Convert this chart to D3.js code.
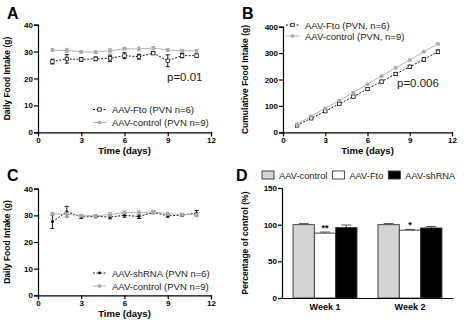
<!DOCTYPE html>
<html>
<head>
<meta charset="utf-8">
<script src="https://cdn.jsdelivr.net/npm/d3@7"></script>
<style>
  body { margin: 0; background: #fff; }
  svg { font-family: "Liberation Sans", Arial, sans-serif; display: block; }
  .tick text { font-weight: bold; font-size: 8px; fill: #000; }
  .domain, .tick line { stroke: #000; stroke-width: 1.2px; }
</style>
</head>
<body>
<svg id="chart" width="464" height="324"></svg>
<script>
// ---- data ----
const days = [1, 2, 3, 4, 5, 6, 7, 8, 9, 10, 11];
const dayTicks = [0, 3, 6, 9, 12];

// panel A: daily intake (g)
const aFto = [26.3, 27.3, 27.1, 27.3, 27.5, 28.5, 28.1, 29.4, 26.6, 28.5, 28.5];
const aFtoErr = [0.9, 1.6, 0.7, 0.7, 1.2, 1.1, 0.9, 0.5, 2.2, 0.8, 0.6];
const ctrlDaily = [30.6, 30.4, 29.9, 29.8, 30.3, 31.1, 31.0, 31.3, 30.6, 30.3, 30.3];
const ctrlDailyErr = [0.5, 0.8, 0.5, 0.5, 0.8, 0.5, 0.7, 0.6, 0.6, 0.5, 0.5];

// panel B: cumulative intake (g)
const bFto = [26, 53, 80, 108, 135, 164, 192, 221, 248, 276, 305];
const bFtoErr = [1, 2, 3, 4, 4, 5, 5, 5, 6, 7, 7];
const bCtrl = [31, 61, 91, 120, 151, 182, 213, 244, 274, 305, 335];
const bCtrlErr = [1, 1, 2, 2, 2, 2, 3, 3, 3, 3, 3];

// panel C: daily intake (g), shRNA vs control
const cShrna = [27.6, 31.4, 29.4, 29.6, 29.4, 30.0, 29.6, 31.1, 29.8, 30.1, 30.8];
const cShrnaErr = [2.5, 2.0, 0.6, 0.5, 0.7, 0.7, 0.8, 0.5, 0.5, 0.4, 1.0];

// panel D: percentage of control
const weeks = ["Week 1", "Week 2"];
const groups = ["AAV-control", "AAV-Fto", "AAV-shRNA"];
const dValues = { "AAV-control": [100, 100], "AAV-Fto": [88.5, 92.5], "AAV-shRNA": [96, 95.5] };
const dErrors = { "AAV-control": [1.5, 1.5], "AAV-Fto": [1.5, 1.0], "AAV-shRNA": [3.5, 2.0] };
const dStars = { "AAV-Fto": ["**", "*"] };

const svg = d3.select("#chart");
const grey = "#a9a9a9";

function panelLetter(t, x, y) {
  svg.append("text").attr("x", x).attr("y", y)
    .style("font-size", "16px").style("font-weight", "bold").text(t);
}

function linePanel(cfg) {
  const x = d3.scaleLinear().domain([0, 12]).range(cfg.xr);
  const y = d3.scaleLinear().domain(cfg.yd).range(cfg.yr);
  const g = svg.append("g");

  g.append("g").attr("transform", `translate(0,${cfg.yr[0]})`)
    .call(d3.axisBottom(x).tickValues(dayTicks).tickSize(4).tickPadding(1));
  g.append("g").attr("transform", `translate(${cfg.xr[0]},0)`)
    .call(d3.axisLeft(y).tickValues(cfg.yt).tickSize(4).tickPadding(1));

  // axis titles
  g.append("text")
    .attr("transform", `translate(${cfg.ytx},${(cfg.yr[0] + cfg.yr[1]) / 2}) rotate(-90)`)
    .attr("text-anchor", "middle").style("font-size", "8.5px").style("font-weight", "bold")
    .text(cfg.ytitle);
  g.append("text").attr("x", (cfg.xr[0] + cfg.xr[1]) / 2).attr("y", cfg.yr[0] + 22)
    .attr("text-anchor", "middle").style("font-size", "9.5px").style("font-weight", "bold")
    .text("Time (days)");

  cfg.series.forEach(s => {
    const pts = days.map((d, i) => ({ d, v: s.values[i], e: s.errs[i] }));
    const sg = g.append("g");
    sg.append("path").datum(pts)
      .attr("fill", "none").attr("stroke", s.color).attr("stroke-width", 0.9)
      .attr("stroke-dasharray", s.dash || null)
      .attr("d", d3.line().x(p => x(p.d)).y(p => y(p.v)));
    // error bars
    sg.selectAll(".eb").data(pts).enter().append("path")
      .attr("fill", "none").attr("stroke", s.color).attr("stroke-width", 0.9)
      .attr("d", p => {
        const cx = x(p.d), t = y(p.v + p.e), b = y(p.v - p.e);
        return `M${cx},${t}V${b}M${cx - 2},${t}H${cx + 2}M${cx - 2},${b}H${cx + 2}`;
      });
    drawMarkers(sg, pts.map(p => [x(p.d), y(p.v)]), s);
  });

  // legend
  cfg.series.forEach((s, i) => {
    const ly = cfg.leg.y + i * cfg.leg.dy;
    const lg = g.append("g");
    lg.append("line").attr("x1", cfg.leg.x).attr("x2", cfg.leg.x + 13)
      .attr("y1", ly).attr("y2", ly).attr("stroke", s.color).attr("stroke-width", 0.9)
      .attr("stroke-dasharray", s.dash || null);
    drawMarkers(lg, [[cfg.leg.x + 6.5, ly]], s);
    lg.append("text").attr("x", cfg.leg.x + 19).attr("y", ly + 3.5)
      .style("font-size", "9.5px").style("fill", "#222").text(s.name);
  });

  g.append("text").attr("x", cfg.p.x).attr("y", cfg.p.y)
    .style("font-size", "11.5px").style("fill", "#222").text(cfg.p.text);
}

function drawMarkers(sel, xy, s) {
  if (s.marker === "open") {
    sel.selectAll(null).data(xy).enter().append("rect")
      .attr("x", p => p[0] - 1.7).attr("y", p => p[1] - 1.7).attr("width", 3.4).attr("height", 3.4)
      .attr("fill", "#fff").attr("stroke", "#000").attr("stroke-width", 0.7);
  } else if (s.marker === "grey") {
    sel.selectAll(null).data(xy).enter().append("rect")
      .attr("x", p => p[0] - 1.6).attr("y", p => p[1] - 1.6).attr("width", 3.2).attr("height", 3.2)
      .attr("fill", grey);
  } else {
    sel.selectAll(null).data(xy).enter().append("circle")
      .attr("cx", p => p[0]).attr("cy", p => p[1]).attr("r", 1.4).attr("fill", "#000");
  }
}

// ---- panel A ----
panelLetter("A", 7, 19);
linePanel({
  xr: [38, 211], yr: [132.3, 24.7], yd: [0, 40], yt: [0, 10, 20, 30, 40],
  ytx: 10, ytitle: "Daily Food Intake (g)",
  series: [
    { name: "AAV-Fto (PVN n=6)", values: aFto, errs: aFtoErr, color: "#000", dash: "2,1.5", marker: "open" },
    { name: "AAV-control (PVN n=9)", values: ctrlDaily, errs: ctrlDailyErr, color: grey, marker: "grey" }
  ],
  leg: { x: 93, y: 109.5, dy: 13 },
  p: { x: 167, y: 81, text: "p=0.01" }
});

// ---- panel B ----
panelLetter("B", 242, 19);
linePanel({
  xr: [283, 452], yr: [132.3, 26.7], yd: [0, 400], yt: [0, 100, 200, 300, 400],
  ytx: 248, ytitle: "Cumulative Food Intake (g)",
  series: [
    { name: "AAV-Fto (PVN, n=6)", values: bFto, errs: bFtoErr, color: "#000", dash: "2,1.5", marker: "open" },
    { name: "AAV-control (PVN, n=9)", values: bCtrl, errs: bCtrlErr, color: grey, marker: "grey" }
  ],
  leg: { x: 286, y: 25, dy: 11 },
  p: { x: 397, y: 87, text: "p=0.006" }
});

// ---- panel C ----
panelLetter("C", 7, 181);
linePanel({
  xr: [38, 211], yr: [295.3, 188.7], yd: [0, 40], yt: [0, 10, 20, 30, 40],
  ytx: 10, ytitle: "Daily Food Intake (g)",
  series: [
    { name: "AAV-shRNA (PVN n=6)", values: cShrna, errs: cShrnaErr, color: "#000", dash: "2,1.5", marker: "dot" },
    { name: "AAV-control (PVN n=9)", values: ctrlDaily, errs: ctrlDailyErr, color: grey, marker: "grey" }
  ],
  leg: { x: 93, y: 273, dy: 13 },
  p: { x: 0, y: 0, text: "" }
});

// ---- panel D ----
panelLetter("D", 236, 181);
(function () {
  const x0 = d3.scaleBand().domain(weeks).range([282, 453]).paddingInner(0.247).paddingOuter(0.13);
  const x1 = d3.scaleBand().domain(groups).range([0, x0.bandwidth()]);
  const y = d3.scaleLinear().domain([0, 150]).range([298, 188]);
  const fills = { "AAV-control": "#d4d4d4", "AAV-Fto": "#fff", "AAV-shRNA": "#000" };
  const g = svg.append("g");

  const bars = [];
  weeks.forEach((w, wi) => groups.forEach(k => bars.push({ w, k, v: dValues[k][wi], e: dErrors[k][wi], s: dStars[k] ? dStars[k][wi] : "" })));

  // error bars (upper only)
  g.selectAll(".eb").data(bars).enter().append("path")
    .attr("fill", "none").attr("stroke", "#444").attr("stroke-width", 0.9)
    .attr("d", d => {
      const cx = x0(d.w) + x1(d.k) + x1.bandwidth() / 2, t = y(d.v + d.e);
      return `M${cx},${y(d.v)}V${t}M${cx - 5},${t}H${cx + 5}`;
    });
  g.selectAll(".bar").data(bars).enter().append("rect")
    .attr("x", d => x0(d.w) + x1(d.k)).attr("width", x1.bandwidth())
    .attr("y", d => y(d.v)).attr("height", d => y(0) - y(d.v))
    .attr("fill", d => fills[d.k]).attr("stroke", "#333").attr("stroke-width", 0.9);
  g.selectAll(".star").data(bars.filter(d => d.s)).enter().append("text")
    .attr("x", d => x0(d.w) + x1(d.k) + x1.bandwidth() / 2).attr("y", d => y(d.v + d.e) - 1)
    .attr("text-anchor", "middle").style("font-size", "9px").style("font-weight", "bold").text(d => d.s);

  g.append("g").attr("transform", "translate(0,298)")
    .call(d3.axisBottom(x0).tickSize(0).tickPadding(6))
    .selectAll("text").style("font-size", "9px");
  g.append("g").attr("transform", "translate(282,0)")
    .call(d3.axisLeft(y).tickValues([0, 50, 100, 150]).tickSize(4).tickPadding(1));

  g.append("text").attr("transform", "translate(248,243) rotate(-90)")
    .attr("text-anchor", "middle").style("font-size", "8.5px").style("font-weight", "bold")
    .text("Percentage of control (%)");

  // legend, laid out left to right
  let lx = 262;
  groups.forEach(k => {
    g.append("rect").attr("x", lx).attr("y", 171).attr("width", 12).attr("height", 8)
      .attr("fill", fills[k]).attr("stroke", "#333").attr("stroke-width", 0.9);
    const t = g.append("text").attr("x", lx + 17).attr("y", 178.5)
      .style("font-size", "9.3px").style("fill", "#222").text(k);
    lx += 17 + t.node().getComputedTextLength() + 5;
  });
})();
</script>
</body>
</html>
